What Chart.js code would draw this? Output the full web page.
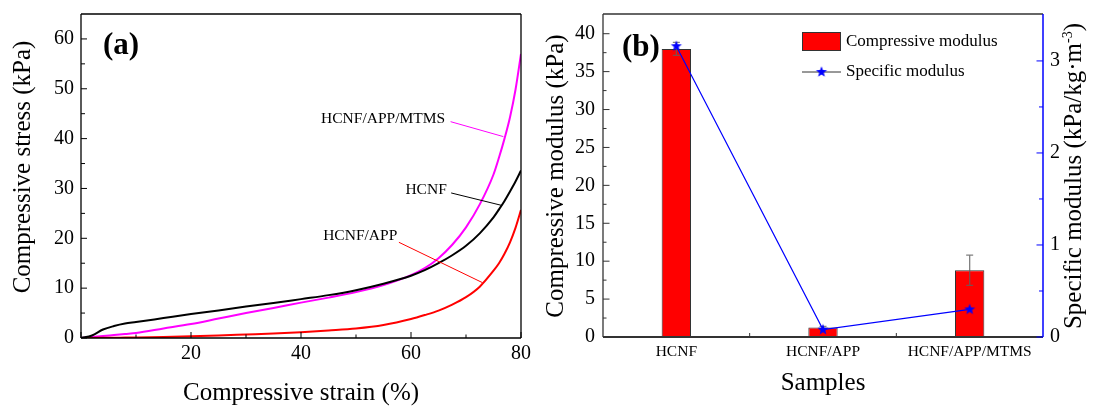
<!DOCTYPE html>
<html><head><meta charset="utf-8">
<script src="https://cdn.jsdelivr.net/npm/chart.js@4.4.1/dist/chart.umd.min.js"></script>
<style>
html,body{margin:0;padding:0;background:#fff;}
#wrap{position:relative;width:1094px;height:406px;overflow:hidden;background:#fff;}
.box{position:absolute;top:0;height:406px;}
</style></head><body>
<div id="wrap">
<div class="box" style="left:0;width:545px"><canvas id="ca" width="545" height="406"></canvas></div>
<div class="box" style="left:545px;width:549px"><canvas id="cb" width="549" height="406"></canvas></div>
</div>
<script>
const FONT = "'Liberation Serif','Times New Roman',Times,serif";

// ---------- (a) data ----------
const strain      = [0,2,4,6,8,10,15,20,25,30,35,40,45,50,55,60,62.5,65,67.5,70,72.5,75,76,77,78,79,80];
const stressHCNF  = [0,0.5,1.7,2.4,2.9,3.2,4.0,4.8,5.5,6.3,7.0,7.8,8.6,9.6,10.9,12.5,13.6,15.0,16.6,18.5,21.0,24.2,25.8,27.5,29.4,31.4,33.6];
const stressAPP   = [0,0.02,0.04,0.06,0.08,0.1,0.2,0.35,0.5,0.7,0.9,1.15,1.5,1.9,2.6,3.8,4.6,5.5,6.7,8.2,10.3,13.5,15.0,16.9,19.2,22.1,25.7];
const stressMTMS  = [0,0.2,0.4,0.6,0.8,1.0,1.9,2.8,3.9,5.0,6.0,7.1,8.1,9.2,10.6,12.6,14.0,16.0,18.7,22.2,26.8,32.8,36.2,40.0,44.3,49.8,57.0];
const seriesNames = ['HCNF','HCNF/APP','HCNF/APP/MTMS'];
// annotation labels (data units): label end, pointer start, pointer end
const noteText  = ['HCNF/APP/MTMS','HCNF','HCNF/APP'];
const noteLabel = [[66.2,43.9],[66.5,29.7],[57.5,20.4]];
const noteFrom  = [[67.2,43.4],[67.3,29.1],[57.8,19.2]];
const noteTo    = [[76.8,40.4],[76.5,26.6],[73.0,11.1]];

// ---------- (b) data ----------
const samples        = ['HCNF','HCNF/APP','HCNF/APP/MTMS'];
const compModulus    = [38.0, 1.25, 8.8];
const compModulusErr = [0.85, 0.15, 2.0];
const specModulus    = [3.16, 0.08, 0.30];

// ---------- helpers ----------
function makeStar(r, color){
  const s = Math.ceil(r*2+2);
  const c = document.createElement('canvas'); c.width = s; c.height = s;
  const g = c.getContext('2d'); g.fillStyle = color; g.beginPath();
  for (let i=0;i<10;i++){
    const rr = i%2 ? r*0.42 : r; const a = -Math.PI/2 + i*Math.PI/5;
    g.lineTo(s/2 + rr*Math.cos(a), s/2 + rr*Math.sin(a));
  }
  g.closePath(); g.fill(); return c;
}
const starImg = makeStar(5.8, '#0000ff');

function textPlugin(items){
  return { id:'texts', afterDraw(chart){
    const ctx = chart.ctx;
    items.forEach(it=>{
      ctx.save(); ctx.translate(it.x, it.y); if (it.rot) ctx.rotate(it.rot);
      ctx.fillStyle = it.color || '#000'; ctx.textBaseline = 'alphabetic';
      const segs = it.segs || [{t: it.text}];
      let total = 0;
      segs.forEach(s=>{ ctx.font = (it.bold?'bold ':'') + (s.size||it.size) + 'px ' + FONT; s.w = ctx.measureText(s.t).width; total += s.w; });
      let x = it.align==='left' ? 0 : (it.align==='right' ? -total : -total/2);
      segs.forEach(s=>{ ctx.font = (it.bold?'bold ':'') + (s.size||it.size) + 'px ' + FONT; ctx.fillText(s.t, x, s.dy||0); x += s.w; });
      ctx.restore();
    });
  }};
}

// inward tick marks derived from the scales' own ticks
function tickPlugin(specs){
  return { id:'inTicks', afterDraw(chart){
    const ctx = chart.ctx, a = chart.chartArea;
    specs.forEach(sp=>{
      const sc = chart.scales[sp.id];
      ctx.save(); ctx.strokeStyle = sp.color; ctx.lineWidth = sp.width || 1; ctx.beginPath();
      const mark = (p,len)=>{
        if (sp.side==='left'){ ctx.moveTo(a.left,p); ctx.lineTo(a.left+len,p); }
        else if (sp.side==='right'){ ctx.moveTo(a.right,p); ctx.lineTo(a.right-len,p); }
        else { ctx.moveTo(p,a.bottom); ctx.lineTo(p,a.bottom-len); }
      };
      if (sp.category){
        for (let i=0;i<sc.ticks.length-1;i++){
          mark((sc.getPixelForTick(i)+sc.getPixelForTick(i+1))/2, sp.majorLen);
        }
      } else {
        const vals = sc.ticks.map(t=>t.value);
        const step = vals.length>1 ? vals[1]-vals[0] : 1;
        vals.forEach(v=>mark(sc.getPixelForValue(v), sp.majorLen));
        vals.forEach(v=>{ const m = v + step/2; if (m < sc.max - step*0.05) mark(sc.getPixelForValue(m), sp.minorLen); });
      }
      ctx.stroke(); ctx.restore();
    });
  }};
}

function framePlugin(sides){
  return { id:'frame', afterDraw(chart){
    const ctx = chart.ctx, a = chart.chartArea;
    sides.forEach(s=>{
      ctx.save(); ctx.strokeStyle = s.color; ctx.lineWidth = s.width; ctx.beginPath();
      if (s.side==='top'){ ctx.moveTo(a.left,a.top); ctx.lineTo(a.right,a.top); }
      if (s.side==='bottom'){ ctx.moveTo(a.left,a.bottom); ctx.lineTo(a.right,a.bottom); }
      if (s.side==='left'){ ctx.moveTo(a.left,a.top); ctx.lineTo(a.left,a.bottom); }
      if (s.side==='right'){ ctx.moveTo(a.right,a.top); ctx.lineTo(a.right,a.bottom); }
      ctx.stroke(); ctx.restore();
    });
  }};
}

const notesPlugin = { id:'notes', afterDatasetsDraw(chart){
  const ctx = chart.ctx, sx = chart.scales.x, sy = chart.scales.y;
  noteText.forEach((t,i)=>{
    const ds = chart.data.datasets.find(d=>d.label===t);
    ctx.save();
    ctx.strokeStyle = ds ? ds.borderColor : '#000'; ctx.lineWidth = 1;
    ctx.beginPath();
    ctx.moveTo(sx.getPixelForValue(noteFrom[i][0]), sy.getPixelForValue(noteFrom[i][1]));
    ctx.lineTo(sx.getPixelForValue(noteTo[i][0]), sy.getPixelForValue(noteTo[i][1]));
    ctx.stroke();
    ctx.fillStyle = '#000'; ctx.font = '15.5px ' + FONT; ctx.textAlign = 'right'; ctx.textBaseline = 'middle';
    ctx.fillText(t, sx.getPixelForValue(noteLabel[i][0]), sy.getPixelForValue(noteLabel[i][1]));
    ctx.restore();
  });
}};

// ---------- chart (a) ----------
const seriesData = [stressHCNF, stressAPP, stressMTMS];
const seriesColors = ['#000000','#ff0000','#ff00ff'];
new Chart(document.getElementById('ca'), {
  type:'line',
  data:{ datasets: seriesNames.map((n,k)=>({
    label:n, data: strain.map((x,i)=>({x, y: seriesData[k][i]})),
    borderColor: seriesColors[k], borderWidth: 2, pointRadius: 0,
    cubicInterpolationMode:'monotone', fill:false
  })) },
  options:{
    responsive:false, animation:false, events:[], devicePixelRatio:1,
    layout:{ padding:{left:0, right:24, top:14, bottom:0} },
    plugins:{ legend:{display:false}, tooltip:{enabled:false} },
    scales:{
      x:{ type:'linear', min:0, max:80,
        grid:{display:false, drawTicks:false}, border:{display:false},
        ticks:{ stepSize:20, padding:4, color:'#000', font:{family:FONT, size:20},
          callback:v=> v===0 ? '' : v },
        afterFit:s=>{ s.height = 68; s.paddingLeft = 0; s.paddingRight = 0; } },
      y:{ type:'linear', min:0, max:65,
        grid:{display:false, drawTicks:false}, border:{display:false},
        ticks:{ stepSize:10, includeBounds:false, padding:7, color:'#000', font:{family:FONT, size:20} },
        afterFit:s=>{ s.width = 81; s.paddingTop = 0; s.paddingBottom = 0; } }
    }
  },
  plugins:[
    notesPlugin,
    framePlugin([{side:'top',color:'#000',width:1.3},{side:'bottom',color:'#000',width:1.3},{side:'left',color:'#000',width:1.3},{side:'right',color:'#000',width:1.3}]),
    tickPlugin([{id:'y',side:'left',color:'#000',majorLen:6,minorLen:4},{id:'x',side:'bottom',color:'#000',majorLen:6,minorLen:3.5}]),
    textPlugin([
      {text:'Compressive stress (kPa)', x:30, y:167, rot:-Math.PI/2, size:25},
      {text:'Compressive strain (%)', x:301, y:400, size:25},
      {text:'(a)', x:103, y:54, size:31, bold:true, align:'left'}
    ])
  ]
});

// ---------- chart (b) ----------
const errorBarPlugin = { id:'errbars', afterDatasetDraw(chart, args){
  if (args.index !== 0) return;
  const meta = chart.getDatasetMeta(0), sy = chart.scales.y, ctx = chart.ctx;
  ctx.save(); ctx.strokeStyle = 'rgba(95,95,95,0.8)'; ctx.lineWidth = 1.3; ctx.beginPath();
  meta.data.forEach((bar,i)=>{
    const v = compModulus[i], e = compModulusErr[i];
    const t = sy.getPixelForValue(v+e), b = sy.getPixelForValue(v-e);
    ctx.moveTo(bar.x, t); ctx.lineTo(bar.x, b);
    ctx.moveTo(bar.x-3.5, t); ctx.lineTo(bar.x+3.5, t);
    ctx.moveTo(bar.x-3.5, b); ctx.lineTo(bar.x+3.5, b);
  });
  ctx.stroke(); ctx.restore();
}};

const legendPlugin = { id:'legendB', afterDraw(chart){
  const ctx = chart.ctx, d = chart.data.datasets;
  ctx.save();
  ctx.fillStyle = d[0].backgroundColor; ctx.fillRect(257, 32, 39, 19);
  ctx.strokeStyle = '#333'; ctx.lineWidth = 1; ctx.strokeRect(257.5, 32.5, 38, 18);
  ctx.strokeStyle = '#333'; ctx.beginPath(); ctx.moveTo(257, 72); ctx.lineTo(296, 72); ctx.stroke();
  ctx.drawImage(starImg, 276.5 - starImg.width/2, 72 - starImg.height/2);
  ctx.fillStyle = '#000'; ctx.font = '17px ' + FONT; ctx.textBaseline = 'middle'; ctx.textAlign = 'left';
  ctx.fillText(d[0].label, 301, 42);
  ctx.fillText(d[1].label, 301, 72);
  ctx.restore();
}};

new Chart(document.getElementById('cb'), {
  type:'bar',
  data:{ labels: samples, datasets:[
    { type:'bar', label:'Compressive modulus', data: compModulus, yAxisID:'y', order:1,
      backgroundColor:'#ff0000', borderColor:'#333333', borderWidth:1,
      barPercentage:0.2, categoryPercentage:1.0 },
    { type:'line', label:'Specific modulus', data: specModulus, yAxisID:'y2', order:0,
      borderColor:'#0000ff', borderWidth:1.2, pointStyle: starImg, pointRadius:6, tension:0, fill:false }
  ]},
  options:{
    responsive:false, animation:false, events:[], devicePixelRatio:1,
    layout:{ padding:{left:0, right:0, top:14, bottom:0} },
    plugins:{ legend:{display:false}, tooltip:{enabled:false} },
    scales:{
      x:{ type:'category', offset:true,
        grid:{display:false, drawTicks:false}, border:{display:false},
        ticks:{ padding:6, color:'#000', font:{family:FONT, size:15.5}, maxRotation:0, autoSkip:false },
        afterFit:s=>{ s.height = 69; s.paddingLeft = 0; s.paddingRight = 0; } },
      y:{ type:'linear', position:'left', min:0, max:42.6,
        grid:{display:false, drawTicks:false}, border:{display:false},
        ticks:{ stepSize:5, includeBounds:false, padding:8, color:'#000', font:{family:FONT, size:20} },
        afterFit:s=>{ s.width = 58; s.paddingTop = 0; s.paddingBottom = 0; } },
      y2:{ type:'linear', position:'right', min:0, max:3.51,
        grid:{display:false, drawTicks:false}, border:{display:false},
        ticks:{ stepSize:1, includeBounds:false, padding:7, color:'#000', font:{family:FONT, size:20} },
        afterFit:s=>{ s.width = 51; s.paddingTop = 0; s.paddingBottom = 0; } }
    }
  },
  plugins:[
    errorBarPlugin, legendPlugin,
    framePlugin([{side:'top',color:'#333',width:1.5},{side:'bottom',color:'#333',width:1.8},{side:'left',color:'#333',width:1.3},{side:'right',color:'#0000ff',width:1.5}]),
    tickPlugin([
      {id:'y',side:'left',color:'#333',majorLen:6.5,minorLen:3.5},
      {id:'y2',side:'right',color:'#0000ff',majorLen:6.5,minorLen:4},
      {id:'x',side:'bottom',color:'#333',majorLen:4,category:true}
    ]),
    textPlugin([
      {text:'Compressive modulus (kPa)', x:18, y:176, rot:-Math.PI/2, size:25},
      {text:'Samples', x:278, y:390, size:25},
      {segs:[{t:'Specific modulus (kPa/kg·m'},{t:'-3',size:14,dy:-9},{t:')'}], x:536, y:176, rot:-Math.PI/2, size:25},
      {text:'(b)', x:77, y:56, size:31, bold:true, align:'left'}
    ])
  ]
});
</script>
</body></html>
